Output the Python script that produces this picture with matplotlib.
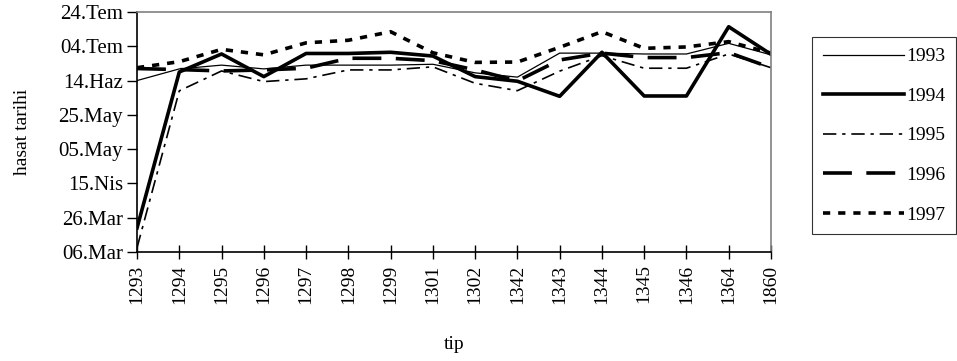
import matplotlib
matplotlib.use('Agg')
import matplotlib.pyplot as plt

plt.rcParams['font.family'] = ['Liberation Serif', 'DejaVu Serif']

tipler = ['1293', '1294', '1295', '1296', '1297', '1298', '1299', '1301',
          '1302', '1342', '1343', '1344', '1345', '1346', '1364', '1860']

# harvest date as day of year (06.Mar = 65)
y1993 = [165, 171.8, 174, 171.8, 174, 174, 174, 174.5, 169.5, 167, 181, 181, 180.5, 180.5, 186.7, 180]
y1994 = [79, 170, 180.5, 167.3, 180.8, 180.8, 181.5, 179.3, 167.3, 164.6, 155.8, 181.5, 156, 156, 196.4, 180.3]
y1995 = [67.5, 159, 170.6, 164.4, 166, 171.2, 171.2, 173, 163.4, 159.1, 170.5, 179.5, 172.2, 172.2, 180.5, 172.5]
y1996 = [172, 171.4, 170.6, 171.2, 172.2, 178, 178, 176.6, 171.2, 164.8, 177, 181, 178.4, 178.4, 181.3, 172.5]
y1997 = [172.5, 176, 183.2, 180, 187, 188.5, 193.5, 181.2, 175.6, 175.8, 184.4, 193.5, 183.8, 184.6, 187.7, 181]

ytick_vals = [65, 85, 105, 125, 145, 165, 185, 205]
ytick_lbl = ['06.Mar', '26.Mar', '15.Nis', '05.May', '25.May', '14.Haz', '04.Tem', '24.Tem']

fig = plt.figure(figsize=(9.57, 3.61), dpi=100)
ax = fig.add_axes([0.1432, 0.302, 0.6624, 0.6648])

x = list(range(len(tipler)))
ax.plot(x, y1993, color='black', lw=0.9, label='1993')
ax.plot(x, y1994, color='black', lw=2.6, label='1994')
ax.plot(x, y1995, color='black', lw=1.2, dashes=(8, 3.5, 2, 3.5), label='1995')
ax.plot(x, y1996, color='black', lw=2.6, dashes=(8, 4), label='1996')
ax.plot(x, y1997, color='black', lw=2.6, dashes=(2, 2.2), label='1997')

ax.set_xlim(0, len(tipler) - 1)
ax.set_ylim(65, 205)
ax.set_xticks(x)
ax.set_xticklabels(tipler, rotation=90, fontsize=14)
ax.set_yticks(ytick_vals)
ax.set_yticklabels(ytick_lbl, fontsize=15)
ax.tick_params(axis='x', direction='inout', length=10, width=1, pad=4)
ax.tick_params(axis='y', direction='out', length=7, width=1, pad=3)

for s in ['top', 'right']:
    ax.spines[s].set_color('#808080')
    ax.spines[s].set_linewidth(1.2)
for s in ['left', 'bottom']:
    ax.spines[s].set_color('black')
    ax.spines[s].set_linewidth(1.2)

ax.set_xlabel('tip', fontsize=14)
ax.xaxis.set_label_coords(0.5, -0.35)
ax.set_ylabel('hasat tarihi', fontsize=14)
ax.yaxis.set_label_coords(-0.167, 0.5)

leg = fig.legend(loc='upper left', bbox_to_anchor=(0.8485, 0.8975), fontsize=14,
                 handlelength=4.2, labelspacing=1.13, handletextpad=0.1,
                 borderpad=0.55, fancybox=False, frameon=True, borderaxespad=0)
leg.get_frame().set_edgecolor('black')
leg.get_frame().set_linewidth(0.8)

fig.savefig('out.png', dpi=100)
